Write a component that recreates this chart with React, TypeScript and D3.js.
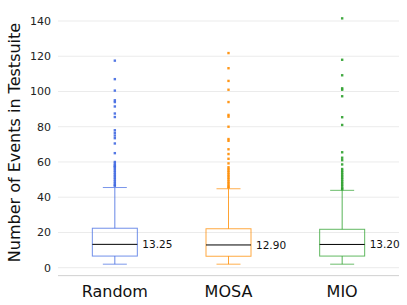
import React from 'react';
import * as d3 from 'd3';

const groups = ['Random', 'MOSA', 'MIO'];
const colors = ['#4169e1', '#ff8c00', '#2ca02c'];

const q1s = [6.6, 6.5, 6.6];
const medians = [13.25, 12.9, 13.2];
const q3s = [22.4, 22.1, 21.8];
const lowWhiskers = [2, 2, 2];
const highWhiskers = [45.5, 44.8, 43.9];

const randomOutliers = [117.5, 107, 100.5, 95, 94, 91.5, 87.5, 85.5, 78, 76.5, 75, 73.5, 70.5, 65,
  60, 59, 58, 57.5, 57, 56, 55, 54, 53, 52, 51, 50, 49, 48, 47, 46.5];
const mosaOutliers = [121.8, 113.2, 106, 101, 94, 86.7, 85.7, 80, 73, 72, 67.2, 64.5, 61.8, 59.2,
  57, 56, 55, 54, 53, 52, 51, 50, 49, 48, 47, 46, 45.5];
const mioOutliers = [141.5, 118, 109.2, 101.8, 101, 97.3, 85.4, 81, 65.5, 62.4, 61, 58.6, 56,
  55, 54, 53, 52, 51, 50, 49, 48, 47, 46, 45, 44.5];
const outliers = [randomOutliers, mosaOutliers, mioOutliers];

const yTicks = [0, 20, 40, 60, 80, 100, 120, 140];

export default function App() {
  const width = 407;
  const height = 305;
  const left = 58;
  const right = 399;

  const x = d3.scaleBand<string>().domain(groups).range([left, right]);
  const y = d3.scaleLinear().domain([0, 140]).range([267.7, 21]);
  const boxW = 45;
  const capW = 24;

  return (
    <svg width={width} height={height} style={{ position: 'absolute', left: 0, top: 0 }}
      fontFamily="DejaVu Sans, sans-serif">
      <rect width={width} height={height} fill="#fff" />
      {yTicks.map(t => (
        <g key={t}>
          <line x1={left} x2={right} y1={y(t)} y2={y(t)} stroke="#ebebeb" strokeWidth={1} />
          <text x={51} y={y(t)} dy="0.35em" textAnchor="end" fontSize={11} fill="#222">{t}</text>
        </g>
      ))}
      <line x1={left} x2={right} y1={y(-4.5)} y2={y(-4.5)} stroke="#d0d0d0" strokeWidth={1} />

      {groups.map((g, i) => {
        const cx = (x(g) ?? 0) + x.bandwidth() / 2;
        const c = colors[i];
        return (
          <g key={g}>
            <line x1={cx} x2={cx} y1={y(lowWhiskers[i])} y2={y(q1s[i])} stroke={c} strokeOpacity={0.8} />
            <line x1={cx} x2={cx} y1={y(q3s[i])} y2={y(highWhiskers[i])} stroke={c} strokeOpacity={0.8} />
            <line x1={cx - capW / 2} x2={cx + capW / 2} y1={y(lowWhiskers[i])} y2={y(lowWhiskers[i])}
              stroke={c} strokeOpacity={0.7} />
            <line x1={cx - capW / 2} x2={cx + capW / 2} y1={y(highWhiskers[i])} y2={y(highWhiskers[i])}
              stroke={c} strokeOpacity={0.7} />
            <rect x={cx - boxW / 2} y={y(q3s[i])} width={boxW} height={y(q1s[i]) - y(q3s[i])}
              fill="none" stroke={c} strokeOpacity={0.75} />
            <line x1={cx - boxW / 2} x2={cx + boxW / 2} y1={y(medians[i])} y2={y(medians[i])}
              stroke="#000" strokeWidth={1} />
            <text x={cx + boxW / 2 + 5} y={y(medians[i])} dy="0.35em" fontSize={10.5} fill="#111">
              {medians[i].toFixed(2)}
            </text>
            {outliers[i].map((v, j) => (
              <rect key={j} x={cx - 1.2} y={y(v) - 1.2} width={2.4} height={2.4} fill={c} opacity={0.9} />
            ))}
            <text x={cx} y={297} textAnchor="middle" fontSize={16} fill="#111">{g}</text>
          </g>
        );
      })}

      <text transform="translate(20,142.5) rotate(-90)" textAnchor="middle" fontSize={16} fill="#111">
        Number of Events in Testsuite
      </text>
    </svg>
  );
}
